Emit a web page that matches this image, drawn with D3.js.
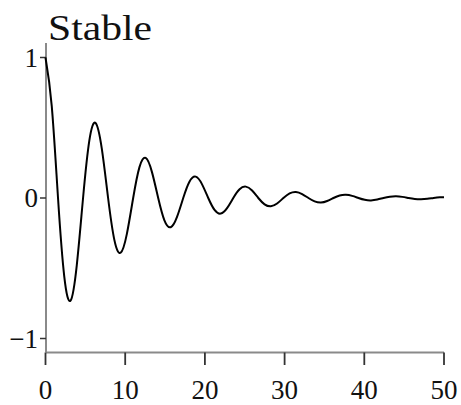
<!DOCTYPE html>
<html><head><meta charset="utf-8">
<script src="https://cdn.jsdelivr.net/npm/d3@7"></script>
<style>body{margin:0;background:#fff}svg{display:block}</style>
</head><body>
<svg id="c" width="461" height="405"></svg>
<script>
const title = "Stable";
const xTicks = [0, 10, 20, 30, 40, 50];
const yTicks = [-1, 0, 1];
const tValues = [0,0.785,1.571,2.356,3.142,3.927,4.712,5.498,6.283,7.069,7.854,8.639,9.425,10.21,11.00,11.78,12.57,13.35,14.14,14.92,15.71,16.49,17.28,18.06,18.85,19.63,20.42,21.21,21.99,22.78,23.56,24.35,25.13,25.92,26.70,27.49,28.27,29.06,29.85,30.63,31.42,32.20,32.99,33.77,34.56,35.34,36.13,36.91,37.70,38.48,39.27,40.06,40.84,41.63,42.41,43.20,43.98,44.77,45.55,46.34,47.12,47.91,48.69,49.48,50];
const yValues = [1,0.654,0,-0.559,-0.730,-0.477,0,0.408,0.534,0.349,0,-0.298,-0.390,-0.255,0,0.218,0.285,0.186,0,-0.159,-0.208,-0.136,0,0.116,0.152,0.099,0,-0.085,-0.111,-0.072,0,0.062,0.081,0.053,0,-0.045,-0.059,-0.039,0,0.033,0.043,0.028,0,-0.024,-0.032,-0.021,0,0.018,0.023,0.015,0,-0.013,-0.017,-0.011,0,0.009,0.012,0.008,0,-0.007,-0.009,-0.006,0,0.005,0.006];

const svg = d3.select("#c");
const x = d3.scaleLinear().domain([0, 50]).range([45.5, 444]);
const y = d3.scaleLinear().domain([-1, 1]).range([338.5, 57.5]);
const font = "'Liberation Serif', 'Times New Roman', serif";

// title
svg.append("text").attr("x", 48).attr("y", 40)
  .attr("font-family", font).attr("font-size", 36)
  .attr("textLength", 104).attr("lengthAdjust", "spacingAndGlyphs")
  .attr("fill", "#111").text(title);

// y axis line
svg.append("line").attr("x1", 46).attr("x2", 46).attr("y1", 43).attr("y2", 352.5)
  .attr("stroke", "#8a8a8a").attr("stroke-width", 2);
// x axis line
svg.append("line").attr("x1", 46).attr("x2", 444).attr("y1", 352.5).attr("y2", 352.5)
  .attr("stroke", "#8a8a8a").attr("stroke-width", 2);

// y ticks
const yg = svg.append("g");
yTicks.forEach(v => {
  yg.append("line").attr("x1", 40).attr("x2", 46).attr("y1", y(v)).attr("y2", y(v))
    .attr("stroke", "#333").attr("stroke-width", 1.5);
  yg.append("text").attr("x", 38).attr("y", y(v)).attr("dy", "0.34em")
    .attr("text-anchor", "end").attr("font-family", font).attr("font-size", 27)
    .attr("fill", "#111").text(v < 0 ? "\u2212" + Math.abs(v) : String(v));
});
// x ticks
const xg = svg.append("g");
xTicks.forEach(v => {
  xg.append("line").attr("x1", x(v)).attr("x2", x(v)).attr("y1", 352.5).attr("y2", 365)
    .attr("stroke", "#333").attr("stroke-width", 1.8);
  xg.append("text").attr("x", x(v)).attr("y", 399)
    .attr("text-anchor", "middle").attr("font-family", font).attr("font-size", 27)
    .attr("fill", "#111").text(String(v));
});

// curve
const data = tValues.map((t, i) => [t, yValues[i]]);
svg.append("path").datum(data)
  .attr("fill", "none").attr("stroke", "#000").attr("stroke-width", 2)
  .attr("d", d3.line().x(d => x(d[0])).y(d => y(d[1])).curve(d3.curveNatural));
</script>
</body></html>
